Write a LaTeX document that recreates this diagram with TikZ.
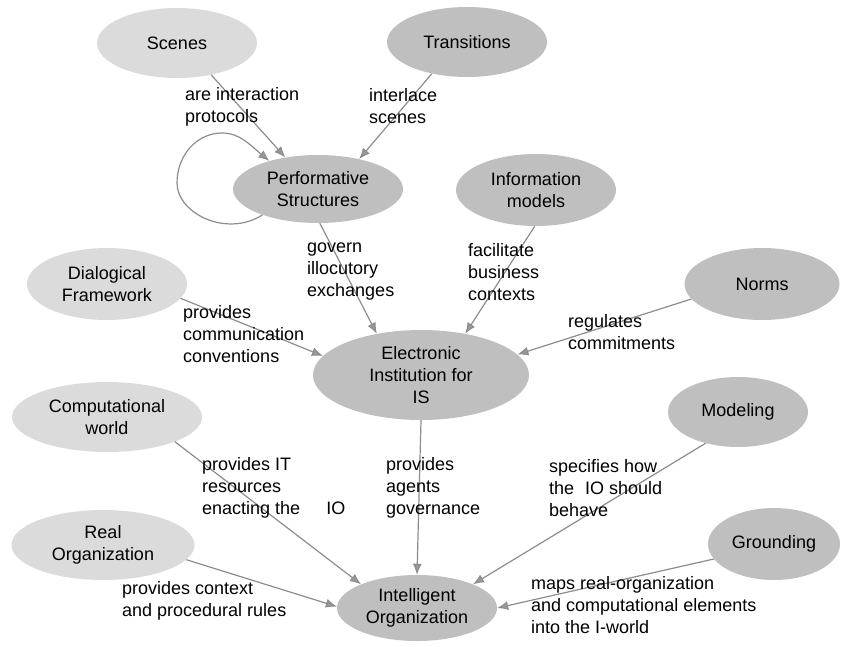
\documentclass[tikz,border=0pt]{standalone}
\usepackage{fontspec}
\setmainfont{Liberation Sans}
\usetikzlibrary{shapes.geometric,arrows.meta}
\begin{document}
\begin{tikzpicture}[x=1pt,y=-1pt,
  ell/.style={ellipse,inner sep=0pt,align=center,font=\fontsize{18}{22}\selectfont},
  darkell/.style={ell,fill=gray!50},
  lightell/.style={ell,fill=gray!28},
  lbl/.style={anchor=west,align=left,inner sep=0pt,font=\fontsize{18}{22}\selectfont},
  conn/.style={draw=black!45,line width=1.2pt,-{Latex[length=11pt,width=9pt,fill=black!40]}}]
\useasboundingbox (0,0) rectangle (841,646);
% nodes
\node[lightell,minimum width=160pt,minimum height=70pt] (scenes) at (177,43) {Scenes};
\node[darkell,minimum width=160pt,minimum height=70pt] (trans) at (467,42) {Transitions};
\node[darkell,minimum width=170pt,minimum height=68pt] (perf) at (318,189) {Performative\\Structures};
\node[darkell,minimum width=160pt,minimum height=72pt] (info) at (536,190) {Information\\models};
\node[lightell,minimum width=160pt,minimum height=72pt] (dial) at (107,284) {Dialogical\\Framework};
\node[darkell,minimum width=155pt,minimum height=72pt] (norms) at (762,284) {Norms};
\node[darkell,minimum width=216pt,minimum height=90pt] (ei) at (421,375) {Electronic\\Institution for\\IS};
\node[lightell,minimum width=190pt,minimum height=70pt] (comp) at (107,417) {Computational\\world};
\node[darkell,minimum width=140pt,minimum height=70pt] (model) at (738,412) {Modeling};
\node[lightell,minimum width=183pt,minimum height=70pt] (real) at (103,545) {Real\\Organization};
\node[darkell,minimum width=132pt,minimum height=72pt] (ground) at (774,544) {Grounding};
\node[darkell,minimum width=160pt,minimum height=66pt] (io) at (417,608) {Intelligent\\Organization};
% connectors
\draw[conn] (scenes.-43) -- (perf.136);
\draw[conn] (trans.222) -- (perf.36);
\draw[conn] (perf.205) .. controls (226,238) and (177,213) .. (177,183)
  .. controls (177,155) and (197,133) .. (222,133)
  .. controls (240,133) and (250,145) .. (perf.150);
\draw[conn] (perf.-87) -- (ei.137);
\draw[conn] (info.-92) -- (ei.43);
\draw[conn] (dial.-11) -- (ei.169);
\draw[conn] (norms.192) -- (ei.12);
\draw[conn] (ei.south) -- (io.north);
\draw[conn] (comp.-20) -- (io.157);
\draw[conn] (real.-10) -- (io.179);
\draw[conn] (model.224) -- (io.23);
\draw[conn] (ground.194) -- (io.0);
% labels
\node[lbl] (l1) at (185,106.5) {are interaction\\protocols};
\node[lbl] (l2) at (369,106.5) {interlace\\scenes};
\node[lbl] (l3) at (307,272) {govern\\illocutory\\exchanges};
\node[lbl] (l4) at (468,272) {facilitate\\business\\contexts};
\node[lbl] (l5) at (183,334) {provides\\communication\\conventions};
\node[lbl] (l6) at (568,332) {regulates\\commitments};
\node[lbl] (l7) at (202,488) {provides IT\\resources\\enacting the\hspace{26pt}IO};
\node[lbl] (l8) at (386,488) {provides\\agents\\governance};
\node[lbl] (l9) at (549,488) {specifies how\\the\hspace{6pt} IO should\\behave};
\node[lbl] (l10) at (122,601) {provides context\\and procedural rules};
\node[lbl] (l11) at (531,605) {maps real-organization\\and computational elements\\into the I-world};
\end{tikzpicture}
\end{document}
